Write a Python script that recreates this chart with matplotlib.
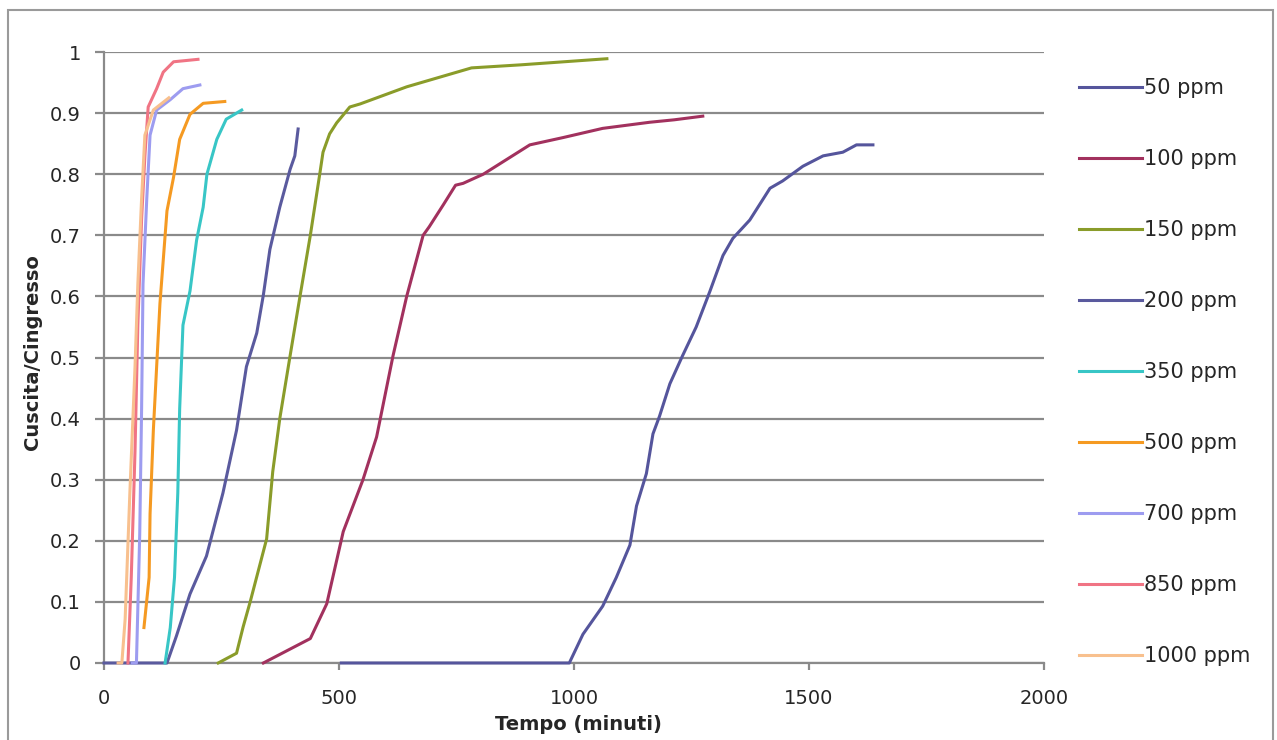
import matplotlib
matplotlib.use("Agg")
import matplotlib.pyplot as plt
from matplotlib.patches import Rectangle

plt.rcParams['font.family'] = ['DejaVu Sans']

# dati: tempo (minuti) e Cuscita/Cingresso
x_50 = [505, 990, 1019, 1061, 1090, 1119, 1133, 1154, 1168, 1182, 1204, 1231, 1260,
        1289, 1317, 1338, 1374, 1417, 1444, 1487, 1530, 1572, 1601, 1636]
y_50 = [0, 0, 0.047, 0.093, 0.14, 0.193, 0.257, 0.31, 0.375, 0.404, 0.457, 0.503, 0.55,
        0.608, 0.667, 0.695, 0.725, 0.777, 0.789, 0.813, 0.83, 0.836, 0.848, 0.848]

x_100 = [339, 439, 474, 509, 551, 580, 615, 644, 679, 692, 722, 748, 764, 807, 906,
         977, 1061, 1161, 1213, 1274]
y_100 = [0, 0.04, 0.097, 0.215, 0.30, 0.37, 0.503, 0.60, 0.70, 0.714, 0.75, 0.782, 0.785,
         0.80, 0.848, 0.86, 0.875, 0.885, 0.889, 0.895]

x_150 = [243, 282, 296, 311, 346, 359, 374, 396, 417, 439, 459, 466, 480, 495, 523, 545,
         644, 782, 887, 1070]
y_150 = [0, 0.016, 0.059, 0.10, 0.203, 0.313, 0.40, 0.503, 0.60, 0.70, 0.80, 0.836, 0.866,
         0.884, 0.91, 0.915, 0.943, 0.974, 0.979, 0.989]

x_200 = [0, 134, 154, 183, 218, 253, 282, 303, 325, 339, 353, 374, 396, 406, 413]
y_200 = [0, 0, 0.044, 0.113, 0.175, 0.278, 0.381, 0.485, 0.54, 0.602, 0.677, 0.746, 0.808,
         0.83, 0.874]

x_350 = [130, 141, 150, 157, 161, 168, 183, 197, 211, 219, 240, 260, 293]
y_350 = [0, 0.058, 0.14, 0.278, 0.416, 0.553, 0.609, 0.692, 0.746, 0.80, 0.857, 0.89, 0.905]

x_500 = [85, 96, 98, 105, 112, 119, 134, 148, 161, 183, 211, 257]
y_500 = [0.058, 0.14, 0.244, 0.381, 0.485, 0.588, 0.74, 0.795, 0.857, 0.898, 0.916, 0.919]

x_700 = [60, 69, 76, 80, 83, 91, 98, 112, 141, 168, 204]
y_700 = [0, 0, 0.21, 0.416, 0.62, 0.76, 0.864, 0.905, 0.922, 0.94, 0.946]

x_850 = [51, 58, 66, 72, 80, 87, 94, 112, 126, 148, 200]
y_850 = [0, 0.14, 0.347, 0.553, 0.727, 0.83, 0.91, 0.94, 0.967, 0.984, 0.988]

x_1000 = [30, 38, 45, 55, 66, 72, 80, 87, 105, 138]
y_1000 = [0, 0, 0.072, 0.278, 0.485, 0.62, 0.76, 0.864, 0.905, 0.925]

serie = [
    ('50 ppm', x_50, y_50, '#55559c'),
    ('100 ppm', x_100, y_100, '#a2315e'),
    ('150 ppm', x_150, y_150, '#8a9c2a'),
    ('200 ppm', x_200, y_200, '#5a5a9e'),
    ('350 ppm', x_350, y_350, '#38c6c6'),
    ('500 ppm', x_500, y_500, '#f59a22'),
    ('700 ppm', x_700, y_700, '#9d9cf0'),
    ('850 ppm', x_850, y_850, '#f07484'),
    ('1000 ppm', x_1000, y_1000, '#f8c08e'),
]

fig = plt.figure(figsize=(12.77, 7.40), dpi=100)
ax = fig.add_axes([104 / 1277, 1 - 663 / 740, (1044 - 104) / 1277, (663 - 52) / 740])

for nome, xs, ys, col in serie:
    ax.plot(xs, ys, color=col, lw=2.2, label=nome, solid_joinstyle='round',
            zorder=3, clip_on=False)

grigio = '#8a8a8a'
testo = '#262626'
ax.set_xlim(0, 2000)
ax.set_ylim(0, 1)
ax.set_xticks([0, 500, 1000, 1500, 2000])
ax.set_yticks([i / 10 for i in range(11)])
ax.set_yticklabels(['0', '0.1', '0.2', '0.3', '0.4', '0.5', '0.6', '0.7', '0.8', '0.9', '1'])
ax.yaxis.grid(True, color=grigio, lw=1.6)
ax.set_axisbelow(True)
for s in ['top', 'right']:
    ax.spines[s].set_visible(False)
for s in ['left', 'bottom']:
    ax.spines[s].set_color(grigio)
    ax.spines[s].set_linewidth(1.6)
ax.tick_params(axis='y', length=6.5, width=1.6, color=grigio, labelsize=14, pad=10,
               labelcolor=testo)
ax.tick_params(axis='x', length=5, width=1.6, color=grigio, labelsize=14, pad=14,
               labelcolor=testo)

fig.text(578 / 1277, 1 - 724 / 740, 'Tempo (minuti)', ha='center', va='center',
         fontsize=14, fontweight='bold', color=testo)
fig.text(33 / 1277, 1 - 352 / 740, 'Cuscita/Cingresso', ha='center', va='center',
         rotation=90, fontsize=14, fontweight='bold', color=testo)

leg = fig.legend(loc='upper left', bbox_to_anchor=(1079 / 1277, 1 - 78 / 740),
                 frameon=False, fontsize=15, handlelength=3.0, handletextpad=0.1,
                 labelspacing=2.45, borderaxespad=0, borderpad=0)
for t in leg.get_texts():
    t.set_color(testo)

fig.patches.append(Rectangle((8 / 1277, -0.02), (1273 - 8) / 1277, 1.02 - 10 / 740,
                             transform=fig.transFigure, fill=False,
                             edgecolor='#9a9a9a', lw=1.5))

fig.savefig('out.png', dpi=100)
